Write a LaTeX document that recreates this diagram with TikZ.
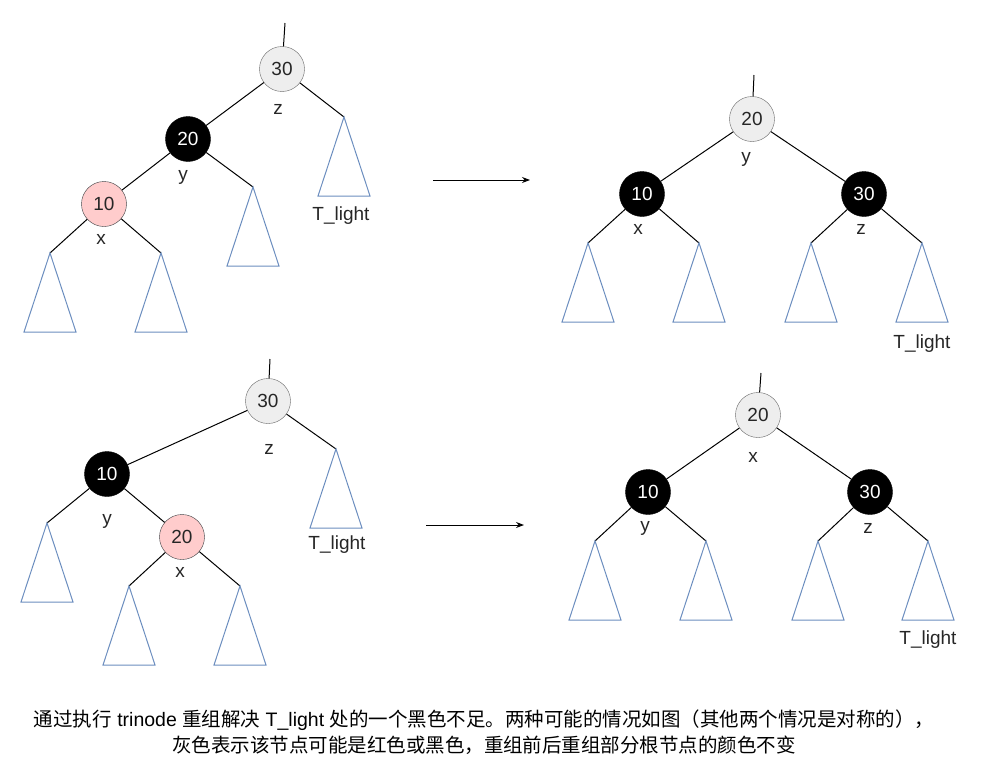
\documentclass[tikz,border=0pt]{standalone}
\usepackage{fontspec}
\setmainfont{Liberation Sans}
\newfontfamily\cjk{Noto Sans CJK SC}
\usetikzlibrary{arrows.meta}
\definecolor{lightgray}{HTML}{EEEEEE}
\definecolor{nodegray}{HTML}{666666}
\definecolor{pinkfill}{HTML}{FFCCCC}
\definecolor{pinkline}{HTML}{36393D}
\definecolor{triblue}{HTML}{6C8EBF}
\tikzset{
  rb/.style={circle, minimum size=45pt, inner sep=0pt, font=\fontsize{19}{22}\selectfont},
  graynode/.style={rb, fill=lightgray, draw=nodegray, text=black!85},
  blacknode/.style={rb, fill=black, draw=black, text=white},
  pinknode/.style={rb, fill=pinkfill, draw=pinkline, text=black!85},
  lbl/.style={inner sep=0pt, font=\fontsize{19}{22}\selectfont, text=black!85},
  edge/.style={draw=black, line width=1pt},
  tri/.style={draw=triblue, line width=1pt, line join=miter},
  arr/.style={draw=black, line width=1pt, -{Stealth[length=8pt,width=6pt]}},
  caption/.style={align=center, inner sep=0pt, font=\fontsize{19.5}{25}\selectfont, text=black}
}
\newcommand{\subtree}[1]{\draw[tri] (#1) -- ++(-26,79) -- ++(52,0) -- cycle;}
\begin{document}
\begin{tikzpicture}[x=1pt, y=-1pt]
\useasboundingbox (0,0) rectangle (986,771);

% ---------- Panel 1 ----------
\node[graynode] (a30) at (282,69) {30};
\node[blacknode] (a20) at (188,139) {20};
\node[pinknode] (a10) at (104,204) {10};
\coordinate (ap) at (285,23);
\coordinate (atl) at (344,117);
\coordinate (ar20) at (253,187);
\coordinate (al10) at (50,253);
\coordinate (ar10) at (161,253);
\draw[edge] (ap) -- (a30);
\draw[edge] (a30) -- (a20);
\draw[edge] (a30) -- (atl);
\draw[edge] (a20) -- (a10);
\draw[edge] (a20) -- (ar20);
\draw[edge] (a10) -- (al10);
\draw[edge] (a10) -- (ar10);
\subtree{atl}\subtree{ar20}\subtree{al10}\subtree{ar10}
\node[lbl] (az) at (278,109) {z};
\node[lbl] (ay) at (183,177) {y};
\node[lbl] (ax) at (101,239) {x};
\node[lbl] (atext) at (341,216) {T\_light};

% arrow 1
\coordinate (arr1s) at (433,180);
\coordinate (arr1e) at (530,180);
\draw[arr] (arr1s) -- (arr1e);

% ---------- Panel 2 ----------
\node[graynode] (b20) at (752,119) {20};
\node[blacknode] (b10) at (642,194) {10};
\node[blacknode] (b30) at (864,194) {30};
\coordinate (bp) at (754,75);
\coordinate (b1) at (588,243);
\coordinate (b2) at (699,243);
\coordinate (b3) at (811,243);
\coordinate (b4) at (922,243);
\draw[edge] (bp) -- (b20);
\draw[edge] (b20) -- (b10);
\draw[edge] (b20) -- (b30);
\draw[edge] (b10) -- (b1);
\draw[edge] (b10) -- (b2);
\draw[edge] (b30) -- (b3);
\draw[edge] (b30) -- (b4);
\subtree{b1}\subtree{b2}\subtree{b3}\subtree{b4}
\node[lbl] (by) at (746,159) {y};
\node[lbl] (bx) at (638,229) {x};
\node[lbl] (bz) at (861,229) {z};
\node[lbl] (btext) at (922,344) {T\_light};

% ---------- Panel 3 ----------
\node[graynode] (c30) at (268,401) {30};
\node[blacknode] (c10) at (107,474) {10};
\node[pinknode] (c20) at (182,537) {20};
\coordinate (cp) at (270,359);
\coordinate (ctl) at (336,449);
\coordinate (cl10) at (47,523);
\coordinate (cl20) at (129,586);
\coordinate (cr20) at (240,586);
\draw[edge] (cp) -- (c30);
\draw[edge] (c30) -- (c10);
\draw[edge] (c30) -- (ctl);
\draw[edge] (c10) -- (cl10);
\draw[edge] (c10) -- (c20);
\draw[edge] (c20) -- (cl20);
\draw[edge] (c20) -- (cr20);
\subtree{ctl}\subtree{cl10}\subtree{cl20}\subtree{cr20}
\node[lbl] (cz) at (269,449) {z};
\node[lbl] (cy) at (107,521) {y};
\node[lbl] (cx) at (180,572) {x};
\node[lbl] (ctext) at (337,545) {T\_light};

% arrow 2
\coordinate (arr2s) at (426,525);
\coordinate (arr2e) at (524,525);
\draw[arr] (arr2s) -- (arr2e);

% ---------- Panel 4 ----------
\node[graynode] (d20) at (758,415) {20};
\node[blacknode] (d10) at (648,492) {10};
\node[blacknode] (d30) at (870,492) {30};
\coordinate (dp) at (761,373);
\coordinate (d1) at (595,541);
\coordinate (d2) at (706,541);
\coordinate (d3) at (818,541);
\coordinate (d4) at (928,541);
\draw[edge] (dp) -- (d20);
\draw[edge] (d20) -- (d10);
\draw[edge] (d20) -- (d30);
\draw[edge] (d10) -- (d1);
\draw[edge] (d10) -- (d2);
\draw[edge] (d30) -- (d3);
\draw[edge] (d30) -- (d4);
\subtree{d1}\subtree{d2}\subtree{d3}\subtree{d4}
\node[lbl] (dx) at (753,457) {x};
\node[lbl] (dy) at (645,528) {y};
\node[lbl] (dz) at (868,528) {z};
\node[lbl] (dtext) at (928,640) {T\_light};

% ---------- Caption ----------
\node[caption] (cap1) at (484,720) {{\cjk 通过执行} trinode {\cjk 重组解决} T\_light {\cjk 处的一个黑色不足。两种可能的情况如图（其他两个情况是对称的），}};
\node[caption] (cap2) at (484,745) {{\cjk 灰色表示该节点可能是红色或黑色，重组前后重组部分根节点的颜色不变}};
\end{tikzpicture}
\end{document}
